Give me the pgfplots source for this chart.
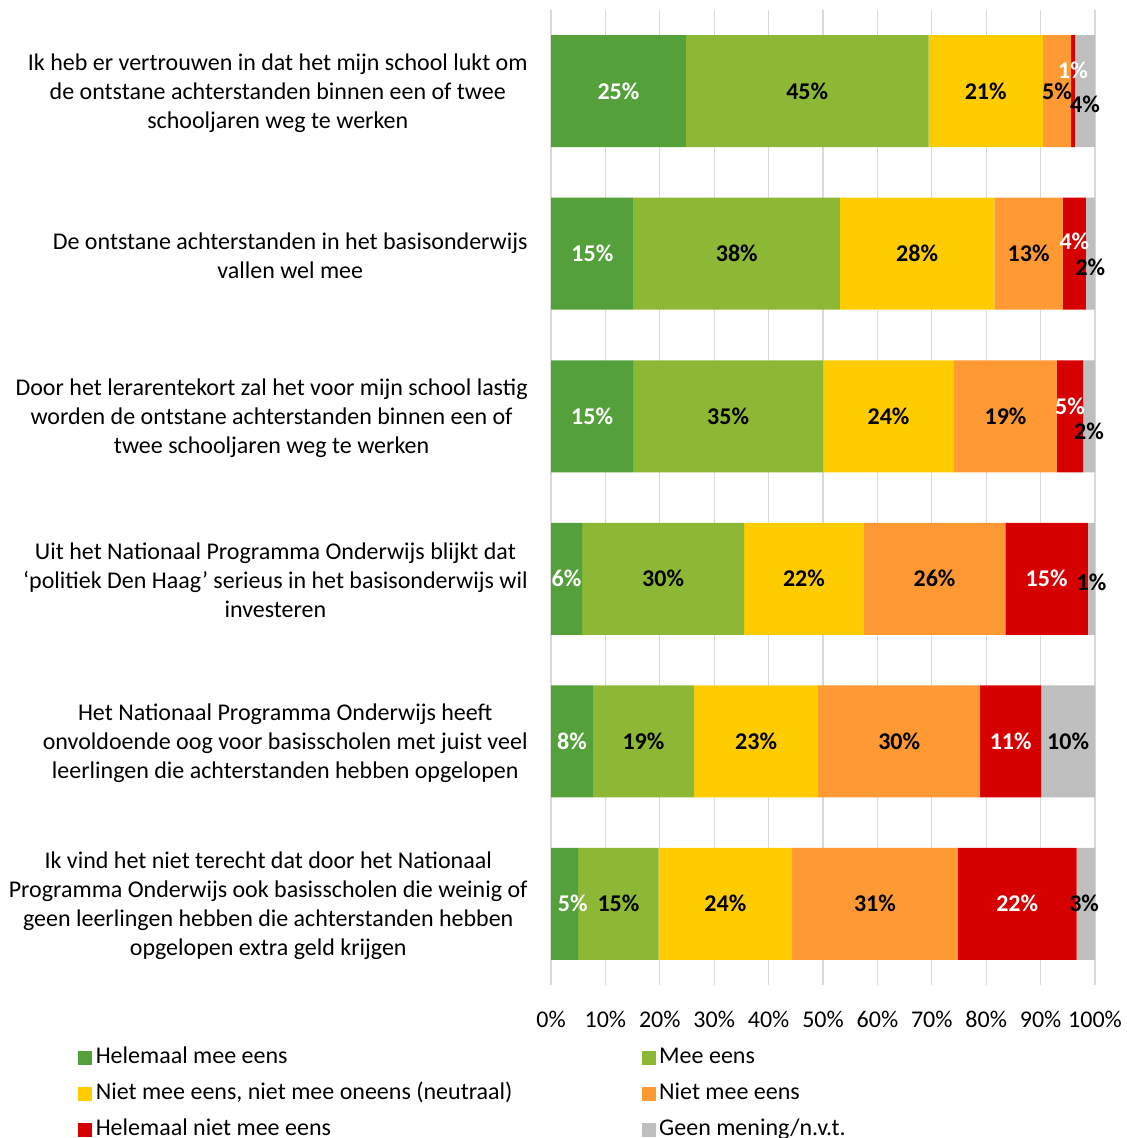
\documentclass[border=0pt]{standalone}
\usepackage{fontspec}
\setmainfont{Carlito}
\usepackage{pgfplots}
\pgfplotsset{compat=1.18}
\definecolor{cA}{RGB}{84,160,58}
\definecolor{cB}{RGB}{140,184,54}
\definecolor{cC}{RGB}{255,204,0}
\definecolor{cD}{RGB}{255,153,51}
\definecolor{cE}{RGB}{214,0,0}
\definecolor{cF}{RGB}{191,191,191}
\definecolor{gridgray}{RGB}{217,217,217}
\begin{document}
\begin{tikzpicture}[font=\fontsize{12}{14.5}\selectfont]
\path[use as bounding box] (0,0) rectangle (563.5pt,-569pt);
\begin{axis}[
 at={(275.5pt,-5pt)}, anchor=north west, scale only axis,
 width=272pt, height=487.5pt,
 xmin=0, xmax=100, ymin=-5.5, ymax=0.5,
 xbar stacked, bar width=56pt,
 axis line style={draw=none}, tick style={draw=none},
 xmajorgrids, grid style={draw=gridgray, line width=0.6pt},
 xtick={0,10,...,100}, xticklabel={\pgfmathprintnumber{\tick}\%},
 /pgf/number format/assume math mode=true,
 xticklabel style={yshift=-9.5pt},
 ytick={-5,-4,-3,-2,-1,0},
 yticklabels={
 {Ik vind het niet terecht dat door het Nationaal\\Programma Onderwijs ook basisscholen die weinig of\\geen leerlingen hebben die achterstanden hebben\\opgelopen extra geld krijgen},
 {Het Nationaal Programma Onderwijs heeft\\onvoldoende oog voor basisscholen met juist veel\\leerlingen die achterstanden hebben opgelopen},
 {Uit het Nationaal Programma Onderwijs blijkt dat\\‘politiek Den Haag’ serieus in het basisonderwijs wil\\investeren},
 {Door het lerarentekort zal het voor mijn school lastig\\worden de ontstane achterstanden binnen een of\\twee schooljaren weg te werken},
 {De ontstane achterstanden in het basisonderwijs\\vallen wel mee},
 {Ik heb er vertrouwen in dat het mijn school lukt om\\de ontstane achterstanden binnen een of twee\\schooljaren weg te werken}},
 yticklabel style={align=center, inner sep=0pt, xshift=-11.5pt, yshift=-0.8pt},
 legend columns=2, legend cell align=left,
 legend style={draw=none, fill=none, inner sep=0pt,
   at={(axis description cs:-0.8695,-0.0626)}, anchor=north west,
   row sep=6.5pt,
   nodes={inner xsep=1.7pt, inner ysep=1pt, text height=7.5pt, text depth=2pt},
   /tikz/every even column/.append style={column sep=63pt}},
 legend image code/.code={\fill[#1] (0pt,-3.5pt) rectangle (7pt,3.5pt);},
 clip=false,
]
\addplot[fill=cA, draw=none] coordinates {(24.8,0) (15.2,-1) (15.1,-2) (5.7,-3) (7.7,-4) (5.0,-5)};
\addplot[fill=cB, draw=none] coordinates {(44.6,0) (37.9,-1) (34.9,-2) (29.8,-3) (18.6,-4) (14.8,-5)};
\addplot[fill=cC, draw=none] coordinates {(21.0,0) (28.4,-1) (24.1,-2) (22.0,-3) (22.8,-4) (24.5,-5)};
\addplot[fill=cD, draw=none] coordinates {(5.2,0) (12.6,-1) (18.9,-2) (26.0,-3) (29.8,-4) (30.5,-5)};
\addplot[fill=cE, draw=none] coordinates {(0.7,0) (4.2,-1) (4.8,-2) (15.2,-3) (11.2,-4) (21.8,-5)};
\addplot[fill=cF, draw=none] coordinates {(3.7,0) (1.7,-1) (2.2,-2) (1.3,-3) (9.9,-4) (3.4,-5)};
\legend{Helemaal mee eens, Mee eens, {Niet mee eens, niet mee oneens (neutraal)}, Niet mee eens, Helemaal niet mee eens, Geen mening/n.v.t.}
\end{axis}
\begin{axis}[
 at={(275.5pt,-5pt)}, anchor=north west, scale only axis,
 width=272pt, height=487.5pt,
 xmin=0, xmax=100, ymin=-5.5, ymax=0.5,
 hide axis, clip=false,
 /pgf/number format/assume math mode=true,
]
\addplot[draw=none, mark=none, point meta=explicit,
 nodes near coords={\pgfmathprintnumber{\pgfplotspointmeta}\%},
 nodes near coords style={anchor=center, font=\fontsize{12}{14}\selectfont\bfseries, text=white}]
 table[x=x, y=y, meta=l] {
x y l
12.4 0 25
95.95 0.129 1
7.6 -1 15
96.2 -0.926 4
7.55 -2 15
95.4 -1.94 5
2.85 -3 6
91.1 -3 15
3.85 -4 8
84.5 -4 11
4.0 -5 5
85.7 -5 22
};
\addplot[draw=none, mark=none, point meta=explicit,
 nodes near coords={\pgfmathprintnumber{\pgfplotspointmeta}\%},
 nodes near coords style={anchor=center, font=\fontsize{12}{14}\selectfont\bfseries, text=black}]
 table[x=x, y=y, meta=l] {
x y l
47.1 0 45
79.9 0 21
93.0 0 5
98.15 -0.08 4
34.15 -1 38
67.3 -1 28
87.8 -1 13
99.15 -1.086 2
32.55 -2 35
62.05 -2 24
83.55 -2 19
98.9 -2.09 2
20.6 -3 30
46.5 -3 22
70.5 -3 26
99.35 -3.02 1
17.0 -4 19
37.7 -4 23
64.0 -4 30
95.05 -4 10
12.4 -5 15
32.05 -5 24
59.55 -5 31
98.0 -5 3
};
\end{axis}
\end{tikzpicture}
\end{document}
